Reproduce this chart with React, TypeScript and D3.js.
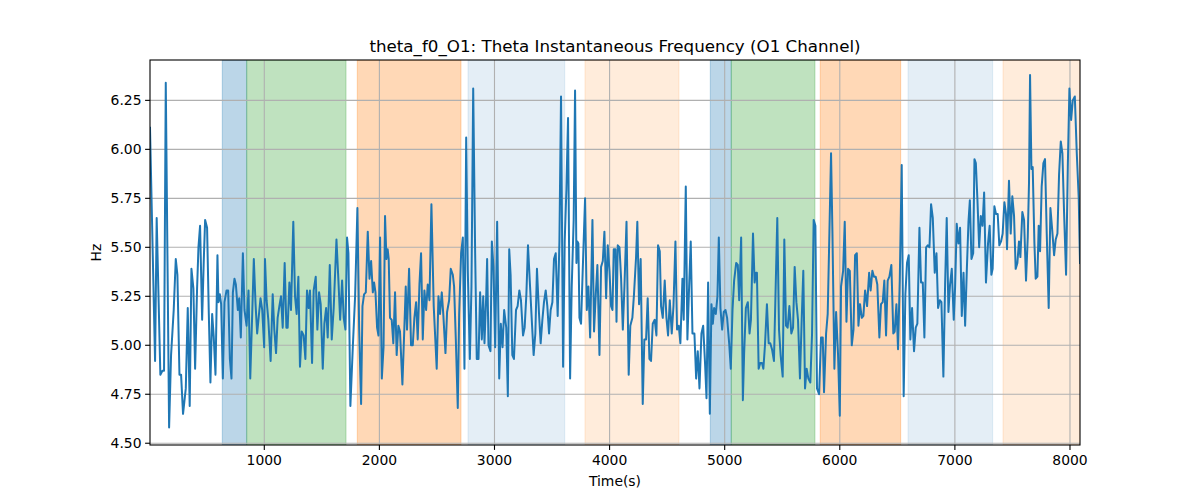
import React from "react";
import * as d3 from "d3";

// ---- data ----
const seg1: [number, number][] = [
  [7,6.11],[51,4.92],[65,5.65],[97,4.85],[115,4.87],[129,4.87],[144,6.34],[173,4.58],[190,4.95],[213,5.18],[231,5.44],[245,5.36],[263,4.85],[277,4.85],[294,4.65],[318,4.78],[335,5.19],[352,4.69],[367,5.39],[384,5.29],[399,4.88],[416,5.29],[428,5.5],[442,5.61],[460,5.13],[474,5.43],[486,5.64],[503,5.6],[518,5.16],[532,4.81],[547,5.16],[561,5.04],[576,4.85],[593,5.46],[602,5.22],[614,5.26],[625,5.21],[640,4.83],[654,5.22],[672,5.28],[686,5.28],[701,4.93],[715,4.83],[727,5.27],[741,5.34],[753,5.31],[770,5.18],[782,5.24],[796,5.04],[814,5.47],[828,5.18],[846,5.1],[863,5.28],[878,4.83],[895,5.16],[909,5.44],[924,5.21],[938,5.06],[967,5.24],[982,5.18],[999,4.99]
];
const seg2: [number, number][] = [
  [1006,5.44],[1020,5.23],[1035,5.13],[1055,4.92],[1073,5.26],[1087,5.08],[1102,4.96],[1116,5.14],[1131,5.2],[1145,5.25],[1160,5.09],[1177,5.42],[1192,5.09],[1203,5.09],[1218,5.32],[1232,5.18],[1252,5.63],[1267,5.25],[1281,5.16],[1296,5.35],[1310,4.89],[1325,5.07],[1342,5.05],[1357,4.93],[1371,5.28],[1386,5.19],[1397,5.28],[1415,4.91],[1429,5.28],[1447,5.35],[1461,5.08],[1476,5.27],[1490,5.21],[1508,4.88],[1522,5.11],[1537,5.19],[1551,5.04],[1569,5.41],[1586,5.03],[1603,5.19],[1627,5.54],[1644,5.33],[1659,5.13],[1676,5.33],[1690,5.14],[1705,5.08],[1719,5.55],[1731,5.47],[1748,4.69],[1769,4.99],[1789,5.25],[1809,5.7],[1824,5.09],[1841,4.7],[1853,5.2],[1867,5.26],[1882,5.27],[1899,5.58],[1914,5.34],[1928,5.43],[1943,5.27],[1954,5.32],[1966,5.27],[1980,5.09],[1992,5.05],[2006,5.55],[2021,4.83],[2036,4.99]
];
const seg3: [number, number][] = [
  [2049,5.66],[2061,5.44],[2072,5.49],[2081,5.44],[2092,5.14],[2107,5.13],[2121,5.01],[2136,5.27],[2150,4.95],[2165,5.1],[2179,5.07],[2200,4.8],[2217,5.09],[2229,5.3],[2240,5.08],[2258,5.39],[2275,5.0],[2290,5.0],[2304,5.14],[2319,5.22],[2333,5.03],[2348,5.31],[2362,5.47],[2377,5.03],[2391,5.28],[2406,5.18],[2420,5.31],[2435,5.23],[2452,5.72],[2472,5.2],[2498,4.88],[2513,5.25],[2527,5.16],[2542,5.27],[2556,5.15],[2574,4.96],[2588,5.17],[2606,5.23],[2620,5.39],[2638,5.36],[2649,5.3],[2664,5.03],[2681,4.68],[2693,5.16],[2710,5.47],[2725,5.55],[2739,4.88],[2754,6.06],[2768,5.38],[2786,4.93],[2800,5.3],[2815,6.31],[2832,5.47],[2846,4.93],[2861,4.93],[2875,5.27],[2890,5.03],[2902,5.25],[2913,5.01],[2928,5.25],[2936,5.44],[2948,5.0],[2965,4.97],[2977,5.53],[2991,5.4],[3006,4.99],[3023,5.63],[3041,4.83],[3055,5.11],[3070,4.99],[3084,5.18],[3102,5.09],[3116,4.74],[3128,5.49]
];
const seg4: [number, number][] = [
  [3140,5.36],[3155,4.95],[3169,4.93],[3187,5.18],[3201,5.2],[3216,5.28],[3230,5.23],[3248,5.05],[3262,5.09],[3277,5.26],[3291,5.51],[3309,5.3],[3323,5.14],[3340,4.95],[3355,5.06],[3369,5.39],[3387,5.16],[3401,5.01],[3416,5.13],[3430,5.22],[3445,5.28],[3459,5.2],[3474,5.06],[3488,5.18],[3503,5.22],[3517,5.44],[3532,5.47],[3549,5.15],[3564,5.53],[3578,6.27],[3596,4.89],[3610,5.53],[3625,5.8],[3639,6.16],[3657,4.83],[3671,5.3],[3688,5.64],[3700,6.3],[3712,5.42],[3720,5.53],[3729,5.52],[3738,5.14],[3752,5.11],[3767,5.39],[3787,5.75],[3802,5.18],[3816,5.3],[3831,5.04],[3851,5.64],[3865,5.07],[3880,5.26],[3894,5.41],[3912,4.95],[3926,5.4],[3941,5.43],[3955,5.58],[3970,5.24],[3984,5.51],[3999,5.38],[4013,5.2],[4025,5.18],[4036,5.49],[4051,5.49],[4060,5.12],[4071,5.51],[4086,5.5],[4100,5.34],[4115,5.08],[4129,5.3],[4147,5.63]
];
const seg5: [number, number][] = [
  [4166,4.85],[4180,5.1],[4198,5.14],[4212,5.26],[4230,5.45],[4241,5.63],[4256,5.21],[4270,5.44],[4288,4.7],[4302,5.03],[4317,5.03],[4331,5.24],[4346,4.93],[4360,4.92],[4375,5.11],[4392,5.13],[4407,5.05],[4421,5.51],[4436,5.48],[4447,5.2],[4462,5.14],[4479,5.33],[4494,5.14],[4508,5.05],[4523,5.23],[4540,5.06],[4555,5.2],[4572,5.53],[4586,5.08],[4601,5.1],[4615,5.01],[4633,5.34],[4644,5.13],[4662,5.81],[4676,5.03],[4691,5.3],[4705,5.53],[4720,5.06],[4737,5.06],[4752,4.83],[4766,4.97],[4781,4.78],[4798,5.06],[4813,5.1],[4830,4.9],[4842,4.73],[4856,5.32],[4871,4.65],[4885,5.21],[4897,5.11],[4908,5.19],[4923,5.16],[4937,5.25],[4949,5.55],[4963,5.19],[4978,5.08],[4992,5.17],[5007,5.18],[5021,5.14],[5039,5.01],[5053,4.88],[5068,5.18],[5082,5.33],[5100,5.42],[5114,5.41],[5126,5.23],[5143,5.55],[5158,4.72],[5169,4.96],[5184,5.19],[5201,5.22],[5216,5.06]
];
const seg6: [number, number][] = [
  [5228,5.13],[5246,5.57],[5260,5.32],[5272,5.37],[5280,5.37],[5295,4.88],[5309,4.91],[5324,4.91],[5336,4.88],[5350,5.0],[5367,5.21],[5382,5.01],[5396,5.01],[5411,4.98],[5428,4.92],[5443,5.3],[5457,5.65],[5472,5.08],[5486,4.95],[5504,4.84],[5518,5.54],[5533,5.1],[5547,5.09],[5562,5.2],[5579,5.06],[5594,5.09],[5608,5.4],[5623,5.22],[5637,5.13],[5654,4.83],[5669,5.13],[5683,5.38],[5698,4.78],[5712,4.88],[5727,4.83],[5744,4.81],[5759,5.06],[5773,5.64],[5788,5.61],[5802,4.78],[5820,4.75],[5837,5.04],[5852,5.04],[5863,4.76],[5881,5.06],[5895,5.16],[5910,5.58],[5924,5.98],[5936,5.58],[5953,4.88],[5968,5.17],[5985,4.95],[6000,4.64],[6011,5.3],[6029,5.38],[6043,5.63],[6058,5.12],[6072,5.39],[6087,5.38],[6104,5.0],[6119,5.08],[6133,5.46],[6148,5.47],[6162,5.1],[6176,5.21],[6191,5.14],[6205,5.15],[6220,5.28],[6237,5.2],[6255,5.37]
];
const seg7: [number, number][] = [
  [6268,5.28],[6283,5.38],[6297,5.35],[6312,5.35],[6326,5.31],[6344,5.04],[6358,5.21],[6373,5.22],[6387,5.33],[6402,5.05],[6416,5.33],[6431,5.35],[6448,5.41],[6465,5.06],[6477,5.07],[6492,5.21],[6506,4.98],[6521,5.33],[6538,5.92],[6555,4.74],[6570,5.26],[6584,5.42],[6599,5.46],[6613,5.03],[6628,5.19],[6645,4.97],[6660,5.09],[6674,5.11],[6692,5.6],[6706,5.32],[6721,5.32],[6735,5.04],[6750,5.5],[6764,5.51],[6779,5.5],[6793,5.72],[6808,5.65],[6825,5.37],[6840,5.47],[6854,5.19],[6869,5.23],[6883,5.22],[6900,4.84],[6915,5.31],[6929,5.65],[6944,5.17],[6958,5.31],[6973,5.39],[6990,5.13],[7002,5.3],[7016,5.62],[7031,5.52],[7045,5.6],[7060,5.15],[7075,5.37],[7089,5.1],[7104,5.39],[7118,5.63],[7130,5.74],[7144,5.44],[7159,5.47],[7170,5.95],[7182,5.93],[7196,5.74],[7211,5.5],[7225,5.66],[7240,5.61],[7254,5.78]
];
const seg8: [number, number][] = [
  [7270,5.32],[7288,5.52],[7302,5.61],[7317,5.36],[7328,5.39],[7343,5.71],[7357,5.67],[7372,5.67],[7386,5.51],[7401,5.53],[7415,5.57],[7430,5.73],[7444,5.67],[7453,5.49],[7470,5.84],[7485,5.57],[7499,5.76],[7514,5.66],[7528,5.39],[7543,5.42],[7557,5.53],[7569,5.45],[7586,5.68],[7601,5.64],[7618,5.33],[7633,5.55],[7644,5.83],[7653,6.38],[7665,5.9],[7676,5.91],[7691,5.52],[7702,5.34],[7717,5.35],[7728,5.61],[7740,5.48],[7754,5.81],[7769,5.93],[7783,5.95],[7798,5.57],[7815,5.19],[7830,5.7],[7844,5.6],[7862,5.46],[7876,5.54],[7891,5.57],[7905,5.87],[7920,6.04],[7934,5.98],[7949,5.67],[7966,5.36],[7981,5.91],[7995,6.31],[8010,6.15],[8024,6.25],[8042,6.27],[8059,5.98],[8076,5.75],[8087,5.42]
];

const spanStarts = [635, 847, 1808, 2770, 3786, 4875, 5057, 5830, 6593, 7418];
const spanEnds = [847, 1710, 2709, 3610, 4603, 5057, 5784, 6529, 7328, 8087];
const spanKinds = ["blue", "green", "orange", "lightblue", "lightorange", "blue", "green", "orange", "lightblue", "lightorange"];

const xTicks = [1000, 2000, 3000, 4000, 5000, 6000, 7000, 8000];
const yTicks = [4.5, 4.75, 5.0, 5.25, 5.5, 5.75, 6.0, 6.25];

const title = "theta_f0_O1: Theta Instantaneous Frequency (O1 Channel)";
const xLabel = "Time(s)";
const yLabel = "Hz";

// ---- styling ----
const kindStyle: Record<string, { color: string; opacity: number }> = {
  blue: { color: "#1f77b4", opacity: 0.3 },
  green: { color: "#2ca02c", opacity: 0.3 },
  orange: { color: "#ff7f0e", opacity: 0.3 },
  lightblue: { color: "#1f77b4", opacity: 0.12 },
  lightorange: { color: "#ff7f0e", opacity: 0.15 },
};

const W = 1200, H = 500;
const L = 150, R = 1080, T = 60, B = 445;
const FONT = "DejaVu Sans, sans-serif";

export default function App() {
  const data = [...seg1, ...seg2, ...seg3, ...seg4, ...seg5, ...seg6, ...seg7, ...seg8];
  const x = d3.scaleLinear().domain([7, 8087]).range([L, R]);
  const y = d3.scaleLinear().domain([4.491, 6.456]).range([B, T]);
  const line = d3.line<[number, number]>().x((d) => x(d[0])).y((d) => y(d[1]));

  return (
    <svg width={W} height={H} style={{ position: "absolute", left: 0, top: 0, background: "#fff" }} fontFamily={FONT}>
      <rect x={0} y={0} width={W} height={H} fill="#fff" />
      <defs>
        <clipPath id="plotclip">
          <rect x={L} y={T} width={R - L} height={B - T} />
        </clipPath>
      </defs>
      <g clipPath="url(#plotclip)">
        {spanStarts.map((s, i) => {
          const st = kindStyle[spanKinds[i]];
          return (
            <rect key={i} x={x(s)} y={T} width={x(spanEnds[i]) - x(s)} height={B - T}
              fill={st.color} fillOpacity={st.opacity} stroke={st.color} strokeOpacity={st.opacity} strokeWidth={1} />
          );
        })}
        {xTicks.map((t) => (
          <line key={"gx" + t} x1={x(t)} x2={x(t)} y1={T} y2={B} stroke="#b0b0b0" strokeWidth={1.1} />
        ))}
        {yTicks.map((t) => (
          <line key={"gy" + t} x1={L} x2={R} y1={y(t)} y2={y(t)} stroke="#b0b0b0" strokeWidth={1.1} />
        ))}
        <path d={line(data) || ""} fill="none" stroke="#1f77b4" strokeWidth={2} strokeLinejoin="round" strokeLinecap="square" />
      </g>
      <rect x={L} y={T} width={R - L} height={B - T} fill="none" stroke="#000" strokeWidth={1.1} />
      {xTicks.map((t) => (
        <g key={"tx" + t}>
          <line x1={x(t)} x2={x(t)} y1={B} y2={B + 4.9} stroke="#000" strokeWidth={1.1} />
          <text x={x(t)} y={B + 20} textAnchor="middle" fontSize={13.9} fill="#000">{t}</text>
        </g>
      ))}
      {yTicks.map((t) => (
        <g key={"ty" + t}>
          <line x1={L - 4.9} x2={L} y1={y(t)} y2={y(t)} stroke="#000" strokeWidth={1.1} />
          <text x={L - 8.5} y={y(t) + 5} textAnchor="end" fontSize={13.9} fill="#000">{t.toFixed(2)}</text>
        </g>
      ))}
      <text x={(L + R) / 2} y={52} textAnchor="middle" fontSize={16.7} fill="#000">{title}</text>
      <text x={(L + R) / 2} y={486} textAnchor="middle" fontSize={13.9} fill="#000">{xLabel}</text>
      <text transform={`translate(101, ${(T + B) / 2}) rotate(-90)`} textAnchor="middle" fontSize={13.9} fill="#000">{yLabel}</text>
    </svg>
  );
}
